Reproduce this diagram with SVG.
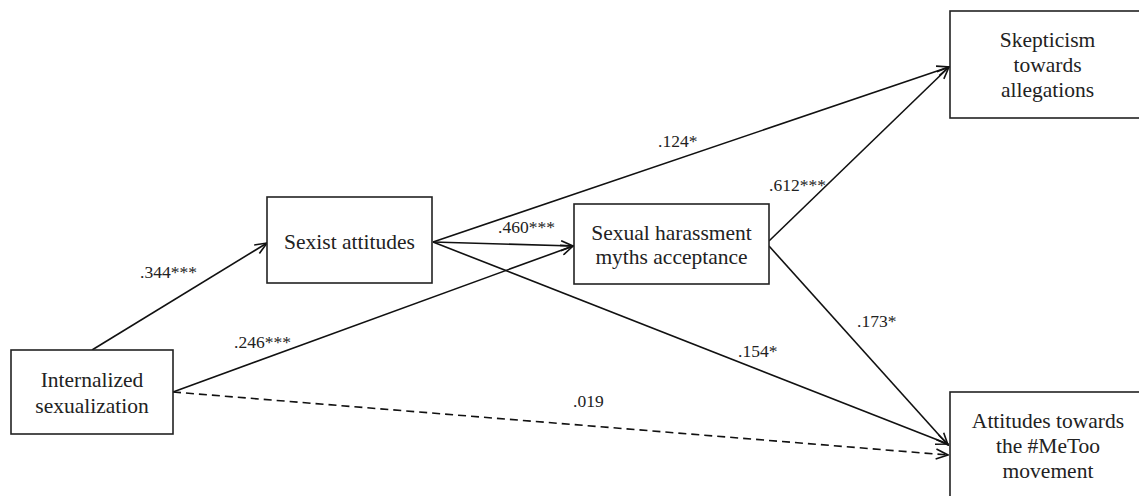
<svg xmlns="http://www.w3.org/2000/svg" width="1139" height="496" viewBox="0 0 1139 496">
<style>
.box{fill:#fff;stroke:#222;stroke-width:1.6}
.t{font-family:"Liberation Serif","Times New Roman",serif;font-size:21.5px;fill:#222;text-anchor:middle}
.lab{font-family:"Liberation Serif","Times New Roman",serif;font-size:17.5px;fill:#222}
.c{stroke:#111;stroke-width:1.6;fill:none;marker-end:url(#ah)}
.d{stroke-dasharray:8 5}
</style>
<defs>
<marker id="ah" viewBox="0 0 14 12" refX="13" refY="6" markerWidth="14" markerHeight="12" markerUnits="userSpaceOnUse" orient="auto">
<path d="M1,1 L13,6 L1,11" fill="none" stroke="#111" stroke-width="1.6"/>
</marker>
</defs>
<rect width="1139" height="496" fill="#fff"/>
<g id="connectors">
<line class="c" x1="92" y1="350" x2="267" y2="243"/>
<line class="c" x1="173" y1="392" x2="573" y2="246"/>
<line class="c" x1="433" y1="242" x2="573" y2="246"/>
<line class="c" x1="433" y1="242" x2="949" y2="67"/>
<line class="c" x1="433" y1="242" x2="948" y2="444"/>
<line class="c" x1="769" y1="241" x2="949" y2="67"/>
<line class="c" x1="769" y1="246" x2="948" y2="445"/>
<line class="c d" x1="173" y1="392" x2="948" y2="455"/>
<text class="lab" x="140" y="278">.344***</text>
<text class="lab" x="234" y="348">.246***</text>
<text class="lab" x="498" y="233">.460***</text>
<text class="lab" x="658" y="147">.124*</text>
<text class="lab" x="769" y="191">.612***</text>
<text class="lab" x="857" y="327">.173*</text>
<text class="lab" x="738" y="357">.154*</text>
<text class="lab" x="573" y="407">.019</text>
</g>
<g id="node-internalized">
<rect class="box" x="11" y="350" width="162" height="84"/>
<text class="t" x="92" y="387">Internalized</text>
<text class="t" x="92" y="413">sexualization</text>
</g>
<g id="node-sexist">
<rect class="box" x="267" y="197" width="165" height="86"/>
<text class="t" x="349.5" y="249">Sexist attitudes</text>
</g>
<g id="node-shma">
<rect class="box" x="574" y="204" width="195" height="80"/>
<text class="t" x="671.5" y="240">Sexual harassment</text>
<text class="t" x="671.5" y="264">myths acceptance</text>
</g>
<g id="node-skepticism">
<rect class="box" x="950" y="11" width="200" height="107"/>
<text class="t" x="1047.5" y="47">Skepticism</text>
<text class="t" x="1047.5" y="72">towards</text>
<text class="t" x="1047.5" y="97">allegations</text>
</g>
<g id="node-metoo">
<rect class="box" x="950" y="392" width="200" height="120"/>
<text class="t" x="1048" y="428">Attitudes towards</text>
<text class="t" x="1048" y="453">the #MeToo</text>
<text class="t" x="1048" y="478">movement</text>
</g>
</svg>
